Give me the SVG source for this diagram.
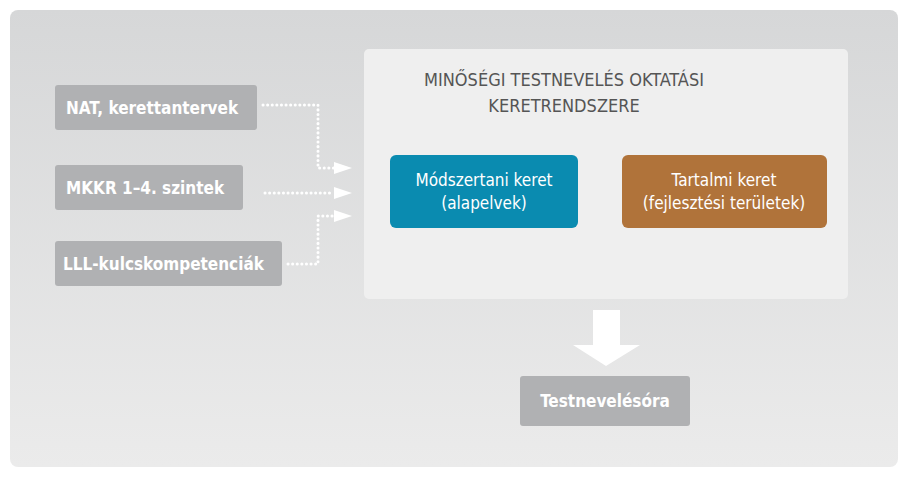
<svg xmlns="http://www.w3.org/2000/svg" width="911" height="481" viewBox="0 0 911 481">
<defs>
<linearGradient id="bg" x1="0" y1="0" x2="0" y2="1"><stop offset="0" stop-color="#d6d7d8"/><stop offset="1" stop-color="#ebebeb"/></linearGradient>
</defs>
<style>
.src{fill:#b0b1b3}
.t{font-family:"DejaVu Sans Condensed","Liberation Sans",sans-serif;font-weight:bold;font-size:17px;fill:#fff}
.w{font-family:"DejaVu Sans Condensed","Liberation Sans",sans-serif;font-size:17px;fill:#fff;text-anchor:middle}
.dot{fill:none;stroke:#fff;stroke-width:3;stroke-dasharray:0.1 4.5;stroke-linecap:round}
.ar{fill:#fff}
</style>
<rect x="10" y="10" width="888" height="457" rx="8" fill="url(#bg)"/>
<rect x="364" y="49" width="484" height="250" rx="5" fill="#efefef"/>
<g id="title"><text x="564" y="86" text-anchor="middle" font-family="DejaVu Sans Condensed,Liberation Sans,sans-serif" font-size="18" fill="#555">MINŐSÉGI TESTNEVELÉS OKTATÁSI</text><text x="564" y="112" text-anchor="middle" font-family="DejaVu Sans Condensed,Liberation Sans,sans-serif" font-size="18" fill="#555">KERETRENDSZERE</text></g>
<g id="nat"><rect class="src" x="55" y="85" width="202" height="45" rx="3"/><text class="t" x="66" y="114">NAT, kerettantervek</text></g>
<g id="mkkr"><rect class="src" x="55" y="165" width="188" height="45" rx="3"/><text class="t" x="66" y="194">MKKR 1–4. szintek</text></g>
<g id="lll"><rect class="src" x="55" y="241" width="227" height="45" rx="3"/><text class="t" x="63" y="270">LLL-kulcskompetenciák</text></g>
<g id="modszertani"><rect x="390" y="155" width="188" height="73" rx="6" fill="#0a8bb0"/><text class="w" x="484" y="186">Módszertani keret</text><text class="w" x="484" y="209">(alapelvek)</text></g>
<g id="tartalmi"><rect x="622" y="155" width="205" height="73" rx="6" fill="#b0733a"/><text class="w" x="724" y="186">Tartalmi keret</text><text class="w" x="724" y="209">(fejlesztési területek)</text></g>
<g id="testneveles"><rect class="src" x="520" y="376" width="170" height="50" rx="3"/><text class="t" x="605" y="407" text-anchor="middle">Testnevelésóra</text></g>
<g id="connectors">
<polyline class="dot" points="263,105 318,105 318,168 334,168"/>
<polyline class="dot" points="265,193 334,193"/>
<polyline class="dot" points="288,264 318,264 318,216 334,216"/>
<path class="ar" d="M334,162 L352,168 L334,174 z"/>
<path class="ar" d="M334,187 L352,193 L334,199 z"/>
<path class="ar" d="M334,210 L352,216 L334,222 z"/>
<path class="ar" d="M593,310 H620 V345 H640 L606,366 L573,345 H593 z"/>
</g>
</svg>
